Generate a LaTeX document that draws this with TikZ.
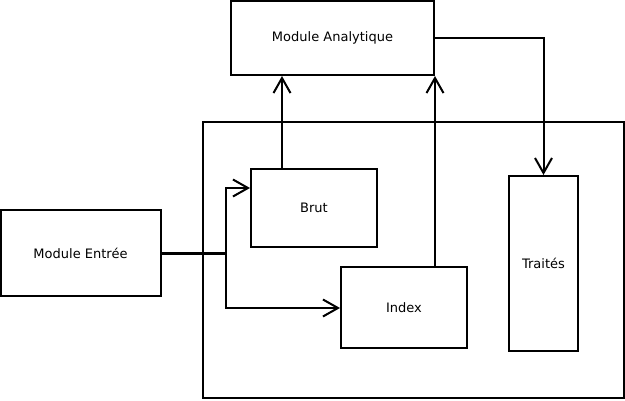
\documentclass[tikz,border=0pt]{standalone}
\usepackage{fontspec}
\setmainfont{DejaVu Sans}
\usetikzlibrary{arrows.meta}
\begin{document}
\begin{tikzpicture}[x=1pt,y=-1pt,
  box/.style={draw,line width=2pt,inner sep=0pt,font=\fontsize{13}{15}\selectfont},
  conn/.style={line width=2pt,-{Straight Barb[length=15pt,width=17pt,line width=2pt]}}]
\useasboundingbox (0,0) rectangle (625,400);
\node[box,minimum width=203pt,minimum height=74pt] (ana) at (332.5,38) {Module Analytique};
\node[draw,line width=2pt,minimum width=421pt,minimum height=276pt,inner sep=0pt] (outer) at (413.5,260) {};
\node[box,minimum width=126pt,minimum height=78pt] (brut) at (314,208) {Brut};
\node[box,minimum width=126pt,minimum height=81pt] (index) at (404,307.5) {Index};
\node[box,minimum width=69pt,minimum height=175pt] (traites) at (543.5,263.5) {Traités};
\node[box,minimum width=160pt,minimum height=86pt] (entree) at (80.5,253) {Module Entrée};
\coordinate (j) at (226,253);
\draw[line width=3pt] (entree.east) -- (j);
\draw[conn] (j) |- (brut.west |- 0,188);
\draw[conn] (j) |- (index.west |- 0,308);
\draw[conn] (brut.north -| 282,0) -- (ana.south -| 282,0);
\draw[conn] (index.north -| 435,0) -- (ana.south -| 435,0);
\draw[conn] (ana.east |- 0,38) -| (traites.north);
\end{tikzpicture}
\end{document}
